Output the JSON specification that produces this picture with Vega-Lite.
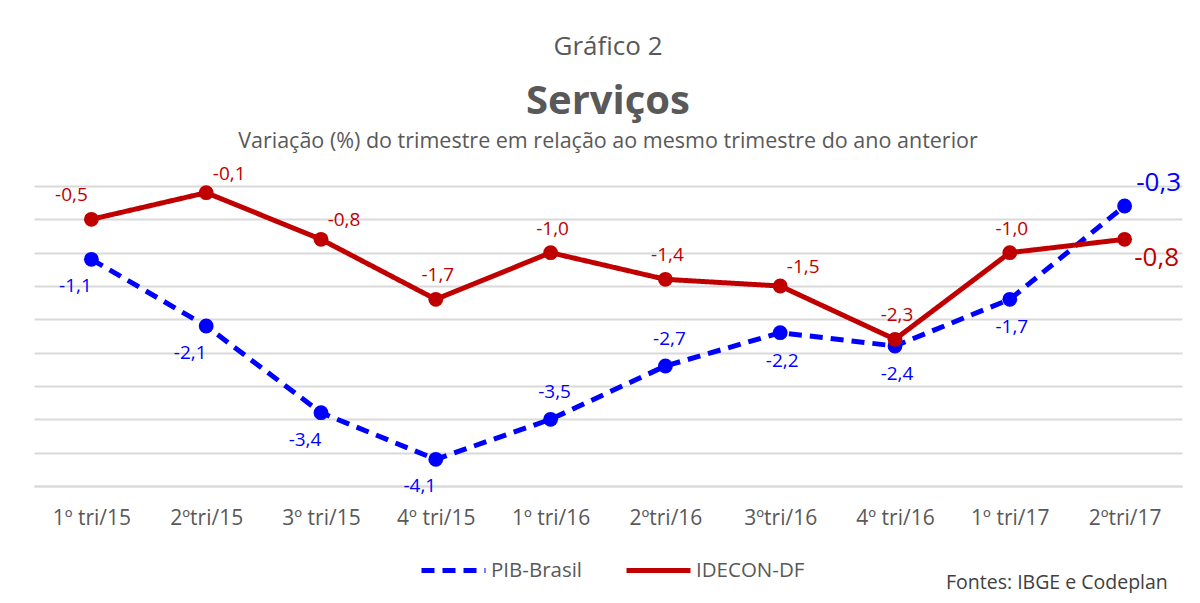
{
 "$schema": "https://vega.github.io/schema/vega-lite/v6.json",
 "padding": {"left": 34, "right": 18, "top": 34, "bottom": 0},
 "background": "white",
 "config": {"font": "Open Sans", "view": {"stroke": null}},
 "title": {"text": "Gráfico 2", "fontSize": 26, "fontWeight": "normal", "color": "#595959", "anchor": "middle", "offset": 22},
 "vconcat": [{
  "width": 1148,
  "height": 300,
  "title": {"text": "Serviços", "subtitle": "Variação (%) do trimestre em relação ao mesmo trimestre do ano anterior", "fontSize": 40, "fontWeight": "bold", "color": "#595959", "subtitleFontSize": 21.5, "subtitleColor": "#595959", "subtitleFont": "Open Sans", "anchor": "middle", "subtitlePadding": 9, "offset": 12},
  "data": {"values": [
   {"q": "1º tri/15", "series": "PIB-Brasil", "value": -1.1},
   {"q": "2ºtri/15", "series": "PIB-Brasil", "value": -2.1},
   {"q": "3º tri/15", "series": "PIB-Brasil", "value": -3.4},
   {"q": "4º tri/15", "series": "PIB-Brasil", "value": -4.1},
   {"q": "1º tri/16", "series": "PIB-Brasil", "value": -3.5},
   {"q": "2ºtri/16", "series": "PIB-Brasil", "value": -2.7},
   {"q": "3ºtri/16", "series": "PIB-Brasil", "value": -2.2},
   {"q": "4º tri/16", "series": "PIB-Brasil", "value": -2.4},
   {"q": "1º tri/17", "series": "PIB-Brasil", "value": -1.7},
   {"q": "2ºtri/17", "series": "PIB-Brasil", "value": -0.3},
   {"q": "1º tri/15", "series": "IDECON-DF", "value": -0.5},
   {"q": "2ºtri/15", "series": "IDECON-DF", "value": -0.1},
   {"q": "3º tri/15", "series": "IDECON-DF", "value": -0.8},
   {"q": "4º tri/15", "series": "IDECON-DF", "value": -1.7},
   {"q": "1º tri/16", "series": "IDECON-DF", "value": -1.0},
   {"q": "2ºtri/16", "series": "IDECON-DF", "value": -1.4},
   {"q": "3ºtri/16", "series": "IDECON-DF", "value": -1.5},
   {"q": "4º tri/16", "series": "IDECON-DF", "value": -2.3},
   {"q": "1º tri/17", "series": "IDECON-DF", "value": -1.0},
   {"q": "2ºtri/17", "series": "IDECON-DF", "value": -0.8}
  ]},
  "transform": [{"calculate": "replace(replace(format(datum.value, '.1f'), '.', ','), '\u2212', '-')", "as": "label"}],
  "encoding": {
   "x": {"field": "q", "type": "ordinal", "sort": null, "scale": {"padding": 0.5},
    "axis": {"title": null, "labelAngle": 0, "labelFontSize": 21, "labelColor": "#595959", "labelPadding": 21, "ticks": false, "domain": true, "domainColor": "#d9d9d9", "domainWidth": 2, "grid": false}},
   "y": {"field": "value", "type": "quantitative", "scale": {"domain": [-4.5, 0], "nice": false, "zero": false},
    "axis": {"title": null, "labels": false, "ticks": false, "domain": false, "grid": true, "gridColor": "#d9d9d9", "gridWidth": 2, "values": [0, -0.5, -1, -1.5, -2, -2.5, -3, -3.5, -4, -4.5]}}
  },
  "layer": [
   {"mark": {"type": "line", "strokeWidth": 5, "point": {"filled": true, "size": 220, "opacity": 1}},
    "encoding": {
     "color": {"field": "series", "type": "nominal", "scale": {"domain": ["PIB-Brasil", "IDECON-DF"], "range": ["#0000FF", "#C00000"]},
      "legend": {"orient": "none", "legendX": 385, "legendY": 350, "direction": "horizontal", "title": "Fontes: IBGE e Codeplan", "titleOrient": "right", "titleAnchor": "end", "titleBaseline": "line-top", "titleLineHeight": 4, "titleFont": "Open Sans", "titleFontSize": 19.5, "titleFontWeight": "normal", "titleColor": "#404040", "titlePadding": 142, "titleLimit": 400, "labelFontSize": 20.5, "labelColor": "#595959", "labelLimit": 300, "symbolType": "stroke", "symbolStrokeWidth": 5, "symbolSize": 4096, "columnPadding": 33, "labelOffset": 3}},
     "strokeDash": {"field": "series", "type": "nominal", "scale": {"domain": ["PIB-Brasil", "IDECON-DF"], "range": [[13, 8], [1, 0]]}, "legend": null}
    }},
   {"transform": [{"filter": {"and": [{"field": "series", "equal": "IDECON-DF"}, {"field": "q", "oneOf": ["1º tri/15"]}]}}],
    "mark": {"type": "text", "fontSize": 19, "color": "#C00000", "dx": -20, "dy": -24}, "encoding": {"text": {"field": "label"}}},
   {"transform": [{"filter": {"and": [{"field": "series", "equal": "IDECON-DF"}, {"field": "q", "oneOf": ["2ºtri/15", "3º tri/15", "3ºtri/16"]}]}}],
    "mark": {"type": "text", "fontSize": 19, "color": "#C00000", "dx": 23, "dy": -19}, "encoding": {"text": {"field": "label"}}},
   {"transform": [{"filter": {"and": [{"field": "series", "equal": "IDECON-DF"}, {"field": "q", "oneOf": ["4º tri/15", "1º tri/16", "2ºtri/16", "4º tri/16", "1º tri/17"]}]}}],
    "mark": {"type": "text", "fontSize": 19, "color": "#C00000", "dx": 2, "dy": -24}, "encoding": {"text": {"field": "label"}}},
   {"transform": [{"filter": {"and": [{"field": "series", "equal": "IDECON-DF"}, {"field": "q", "oneOf": ["2ºtri/17"]}]}}],
    "mark": {"type": "text", "fontSize": 26, "color": "#C00000", "dx": 32, "dy": 19}, "encoding": {"text": {"field": "label"}}},
   {"transform": [{"filter": {"and": [{"field": "series", "equal": "PIB-Brasil"}, {"field": "q", "oneOf": ["1º tri/15", "2ºtri/15", "3º tri/15", "4º tri/15"]}]}}],
    "mark": {"type": "text", "fontSize": 19, "color": "#0000FF", "dx": -16, "dy": 27}, "encoding": {"text": {"field": "label"}}},
   {"transform": [{"filter": {"and": [{"field": "series", "equal": "PIB-Brasil"}, {"field": "q", "oneOf": ["1º tri/16", "2ºtri/16"]}]}}],
    "mark": {"type": "text", "fontSize": 19, "color": "#0000FF", "dx": 4, "dy": -27}, "encoding": {"text": {"field": "label"}}},
   {"transform": [{"filter": {"and": [{"field": "series", "equal": "PIB-Brasil"}, {"field": "q", "oneOf": ["3ºtri/16", "4º tri/16", "1º tri/17"]}]}}],
    "mark": {"type": "text", "fontSize": 19, "color": "#0000FF", "dx": 2, "dy": 28}, "encoding": {"text": {"field": "label"}}},
   {"transform": [{"filter": {"and": [{"field": "series", "equal": "PIB-Brasil"}, {"field": "q", "oneOf": ["2ºtri/17"]}]}}],
    "mark": {"type": "text", "fontSize": 26, "color": "#0000FF", "dx": 34, "dy": -23}, "encoding": {"text": {"field": "label"}}}
  ]
 }]
}
